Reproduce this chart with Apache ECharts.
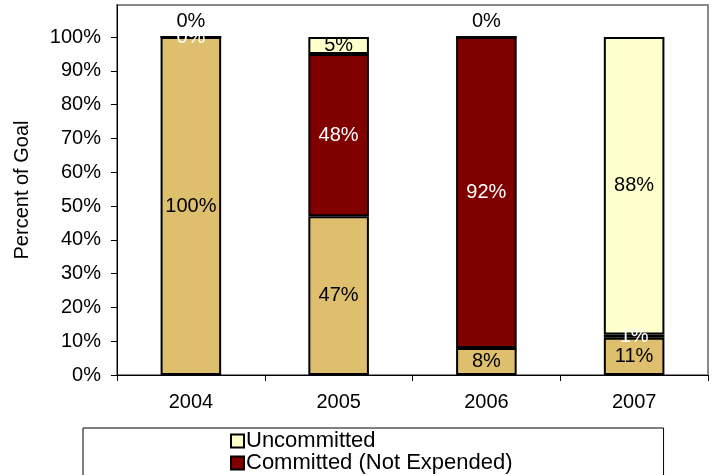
<!DOCTYPE html>
<html>
<head>
<meta charset="utf-8">
<script src="https://cdn.jsdelivr.net/npm/echarts@6/dist/echarts.min.js"></script>
<style>
    html, body {margin: 0; padding: 0; background: #fff;}
    #main {width: 713px; height: 475px;}
</style>
</head>
<body>
<div id="main"></div>
<script>
var years = ['2004', '2005', '2006', '2007'];
var expended = [100, 47, 8, 11];
var committed = [0, 48, 92, 1];
var uncommitted = [0, 5, 0, 88];
var yTicks = [0, 10, 20, 30, 40, 50, 60, 70, 80, 90, 100];

init();

function init() {
    var myChart = echarts.init(document.getElementById("main"));
    var font = 'Liberation Sans, Arial, sans-serif';
    var colors = ['#DDBF6E', '#800000', '#FFFFCC'];

    // 0% 的未承诺部分标签放在柱子上方
    var uncommittedData = uncommitted.map(function (v) {
        if (v === 0) {
            return {value: v, label: {position: 'top', distance: 5}};
        }
        return v;
    });

    var barStyle = function (c) {
        return {color: c, borderColor: '#000', borderWidth: 2};
    };

    var option = {
        animation: false,
        color: colors,
        textStyle: {fontFamily: font},
        grid: {
            left: 117,
            right: 5,
            top: 5,
            bottom: 100,
            outerBoundsMode: 'none',
            show: true,
            borderColor: '#888',
            borderWidth: 2,
            backgroundColor: '#fff'
        },
        legend: {
            orient: 'vertical',
            left: 83,
            top: 428,
            height: 90,
            padding: [2, 151, 4, 147],
            borderColor: '#000',
            borderWidth: 1,
            itemWidth: 13,
            itemHeight: 13,
            itemGap: 0,
            icon: 'rect',
            data: ['Uncommitted', 'Committed (Not Expended)', 'Expended'],
            textStyle: {
                fontSize: 22,
                lineHeight: 21,
                color: '#000',
                fontFamily: font,
                padding: [0, 0, 0, -3]
            }
        },
        xAxis: {
            type: 'category',
            data: years,
            axisLine: {lineStyle: {color: '#000', width: 1}},
            axisTick: {show: true, length: 6, lineStyle: {color: '#000'}},
            axisLabel: {fontSize: 20, color: '#000', margin: 17, fontFamily: font}
        },
        yAxis: {
            type: 'value',
            min: 0,
            max: 109.5,
            name: 'Percent of Goal',
            nameLocation: 'middle',
            nameGap: 85,
            nameRotate: 90,
            nameTextStyle: {fontSize: 20, color: '#000', fontFamily: font},
            splitLine: {show: false},
            axisLine: {show: true, lineStyle: {color: '#000', width: 1}},
            axisTick: {show: true, length: 6, customValues: yTicks, lineStyle: {color: '#000'}},
            axisLabel: {
                fontSize: 20,
                color: '#000',
                margin: 16,
                fontFamily: font,
                customValues: yTicks,
                formatter: '{value}%'
            }
        },
        series: [{
            name: 'Expended',
            type: 'bar',
            stack: 'goal',
            barWidth: '41%',
            data: expended,
            itemStyle: barStyle(colors[0]),
            label: {show: true, position: 'inside', formatter: '{c}%', fontSize: 20, color: '#000', fontFamily: font}
        }, {
            name: 'Committed (Not Expended)',
            type: 'bar',
            stack: 'goal',
            barWidth: '41%',
            data: committed,
            itemStyle: barStyle(colors[1]),
            label: {show: true, position: 'inside', formatter: '{c}%', fontSize: 20, color: '#fff', fontFamily: font}
        }, {
            name: 'Uncommitted',
            type: 'bar',
            stack: 'goal',
            barWidth: '41%',
            data: uncommittedData,
            itemStyle: barStyle(colors[2]),
            label: {show: true, position: 'inside', formatter: '{c}%', fontSize: 20, color: '#000', fontFamily: font}
        }]
    };
    myChart.setOption(option);
}
</script>
</body>
</html>
